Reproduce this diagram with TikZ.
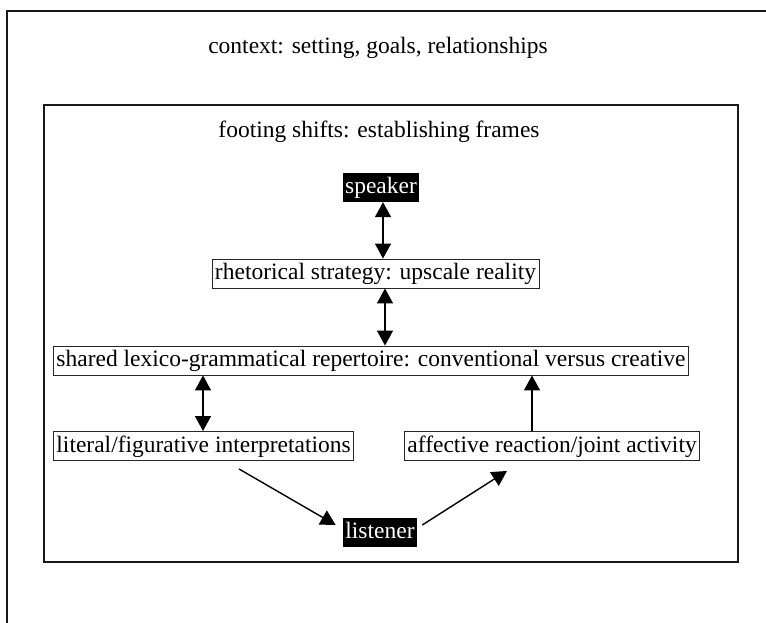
\documentclass[tikz,border=0pt]{standalone}
\usepackage{fontspec}
\setmainfont{Liberation Serif}
\usetikzlibrary{arrows.meta,calc}
\begin{document}
\begin{tikzpicture}[x=1pt,y=-1pt,
  every node/.style={font=\fontsize{23.5}{28}\selectfont},
  lbox/.style={draw=black!85,line width=0.9pt,inner xsep=3pt,inner ysep=2.5pt,text height=18pt,text depth=6pt},
  dark/.style={fill=black,text=white,inner xsep=2.5pt,inner ysep=2.5pt,text height=18pt,text depth=6pt},
  arr/.style={line width=1.4pt,-{Triangle[length=15pt,width=16pt]}},
  darr/.style={line width=1.4pt,{Triangle[length=15pt,width=16pt]}-{Triangle[length=15pt,width=16pt]}},
  frame/.style={line width=2pt,draw=black!90}]
\clip (0,0) rectangle (766,623);
\draw[frame] (7,11) rectangle (790,650);
\draw[frame] (44,105) rectangle (738,562);
\node[anchor=base] (ctx) at (378,54) {context: setting, goals, relationships};
\node[anchor=base] (foot) at (379,138) {footing shifts: establishing frames};
\node[dark] (spk) at (381,187.5) {speaker};
\node[lbox] (rhet) at (375.5,273.5) {rhetorical strategy: upscale reality};
\node[lbox,anchor=west] (shared) at (53,360.5) {shared lexico-grammatical repertoire: conventional versus creative};
\node[lbox,anchor=west] (lit) at (53,446) {literal/figurative interpretations};
\node[lbox,anchor=west] (aff) at (404,446) {affective reaction/joint activity};
\node[dark] (lis) at (380,532) {listener};
\coordinate (x1) at (383,0);
\coordinate (x2) at (385,0);
\coordinate (x3) at (203,0);
\coordinate (x4) at (532,0);
\draw[darr] (spk.south -| x1) -- (rhet.north -| x1);
\draw[darr] (rhet.south -| x2) -- (shared.north -| x2);
\draw[darr] (shared.south -| x3) -- (lit.north -| x3);
\draw[arr] (aff.north -| x4) -- (shared.south -| x4);
\draw[arr] ($(lit.south west)+(186,8)$) -- ($(lis.west)+(-7,-7)$);
\draw[arr] ($(lis.east)+(5,-7)$) -- ($(aff.south west)+(103,10)$);
\end{tikzpicture}
\end{document}
